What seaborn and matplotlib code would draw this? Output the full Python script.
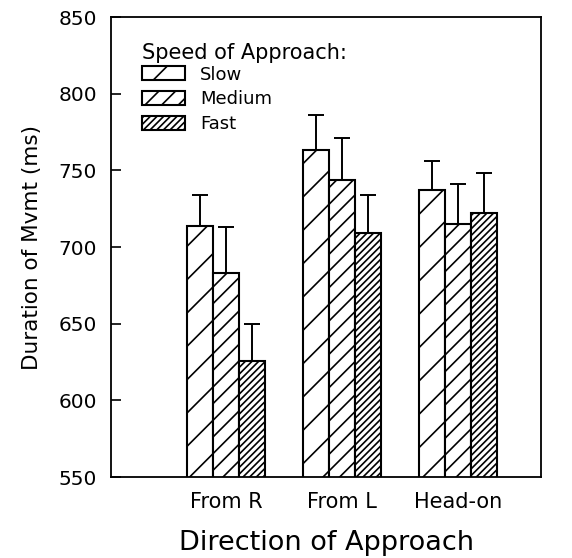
import numpy as np
import pandas as pd
import seaborn as sns
import matplotlib.pyplot as plt

directions = ["From R", "From L", "Head-on"]
speeds = ["Slow", "Medium", "Fast"]
slow = [714, 763, 737]
medium = [683, 744, 715]
fast = [626, 709, 722]
slow_err = [20, 23, 19]
medium_err = [30, 27, 26]
fast_err = [24, 25, 26]
hatches = ["/", "//", "/////"]

df = pd.DataFrame({
    "direction": directions * 3,
    "speed": np.repeat(speeds, 3),
    "duration": slow + medium + fast,
})
errs = [slow_err, medium_err, fast_err]

sns.set_style("ticks")
plt.rcParams["font.family"] = ["DejaVu Sans"]
plt.rcParams["hatch.linewidth"] = 1.2
plt.rcParams["text.color"] = "black"
plt.rcParams["axes.labelcolor"] = "black"
plt.rcParams["xtick.color"] = "black"
plt.rcParams["ytick.color"] = "black"
plt.rcParams["axes.edgecolor"] = "black"

fig = plt.figure(figsize=(5.72, 5.58), dpi=100)
ax = fig.add_axes([0.194, 0.145, 0.752, 0.8245])

sns.barplot(data=df, x="direction", y="duration", hue="speed", order=directions,
            hue_order=speeds, errorbar=None, width=0.67, ax=ax,
            palette=["white"] * 3, edgecolor="black", linewidth=1.5)

for cont, h, e in zip(ax.containers, hatches, errs):
    xs, ys = [], []
    for p in cont.patches:
        p.set_hatch(h)
        p.set_facecolor("white")
        p.set_edgecolor("black")
        xs.append(p.get_x() + p.get_width() / 2)
        ys.append(p.get_height())
    ax.errorbar(xs, ys, yerr=[np.zeros(len(e)), e], fmt="none", ecolor="black",
                elinewidth=1.4, capsize=6, capthick=1.4, zorder=1)

ax.set_ylim(550, 850)
ax.set_xlim(-0.99, 2.716)
ax.set_yticks(range(550, 851, 50))
ax.tick_params(axis="y", direction="in", length=7, width=1.2, labelsize=14.5, pad=10)
ax.tick_params(axis="x", length=0, labelsize=15, pad=11)
for s in ax.spines.values():
    s.set_visible(True)
    s.set_linewidth(1.3)

ax.set_xlabel("Direction of Approach", fontsize=19.5, labelpad=13)
ax.set_ylabel("Duration of Mvmt (ms)", fontsize=15.5, labelpad=12)

leg = ax.legend(ax.containers, speeds, title="Speed of Approach:", loc="upper left",
                bbox_to_anchor=(0.068, 0.948), frameon=False, fontsize=13,
                title_fontsize=15, handlelength=2.4, handleheight=0.8,
                labelspacing=0.37, handletextpad=0.8, alignment="left",
                borderpad=0.1, borderaxespad=0)
leg._legend_box.sep = 2

fig.savefig("out.png", dpi=100)
